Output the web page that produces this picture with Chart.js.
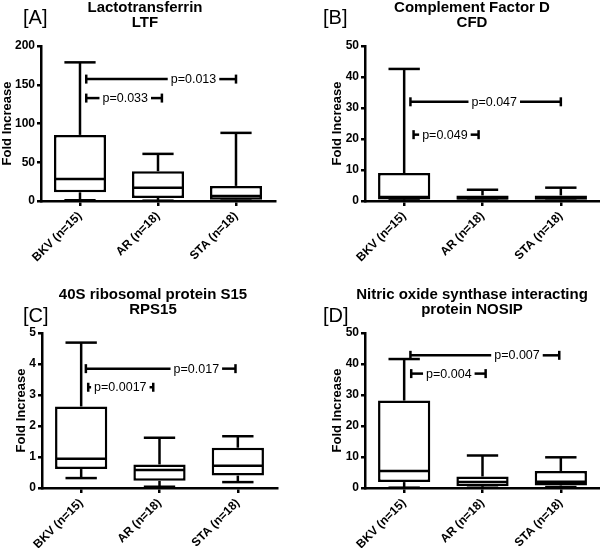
<!DOCTYPE html>
<html>
<head>
<meta charset="utf-8">
<script src="https://cdn.jsdelivr.net/npm/chart.js@4"></script>
<style>
body { margin: 0; background: #fff; }
#wrap { position: relative; width: 600px; height: 548px; }
#wrap canvas { position: absolute; }
</style>
</head>
<body>
<div id="wrap">
  <canvas id="chartA" width="300" height="274" style="left:0;top:0"></canvas>
  <canvas id="chartB" width="300" height="274" style="left:300px;top:0"></canvas>
  <canvas id="chartC" width="300" height="274" style="left:0;top:274px"></canvas>
  <canvas id="chartD" width="300" height="274" style="left:300px;top:274px"></canvas>
</div>
<script>
const groups = ['BKV (n=15)', 'AR (n=18)', 'STA (n=18)'];

// [A] Lactotransferrin
const ltfTitle = ['Lactotransferrin', 'LTF'];
const ltfMin = [1, 0.4, 0.5];
const ltfQ1 = [11.2, 3.9, 1.5];
const ltfMedian = [28.4, 17.2, 6.5];
const ltfQ3 = [85.3, 38.4, 19.5];
const ltfMax = [178.9, 60.8, 87.9];
const ltfTicks = [0, 50, 100, 150, 200];
const ltfP = ['p=0.033', 'p=0.013'];
const ltfPLevel = [132.8, 157.3];

// [B] Complement Factor D
const cfdTitle = ['Complement Factor D', 'CFD'];
const cfdMin = [0.2, 0.1, 0.1];
const cfdQ1 = [0.5, 0.4, 0.4];
const cfdMedian = [1.3, 1.0, 1.1];
const cfdQ3 = [9.0, 1.8, 1.8];
const cfdMax = [42.6, 3.6, 4.3];
const cfdTicks = [0, 10, 20, 30, 40, 50];
const cfdP = ['p=0.049', 'p=0.047'];
const cfdPLevel = [21.4, 32.0];

// [C] 40S ribosomal protein S15
const rpsTitle = ['40S ribosomal protein S15', 'RPS15'];
const rpsMin = [0.32, 0.04, 0.19];
const rpsQ1 = [0.61, 0.23, 0.40];
const rpsMedian = [0.94, 0.58, 0.72];
const rpsQ3 = [2.63, 0.76, 1.30];
const rpsMax = [4.69, 1.62, 1.67];
const rpsTicks = [0, 1, 2, 3, 4, 5];
const rpsP = ['p=0.0017', 'p=0.017'];
const rpsPLevel = [3.25, 3.85];

// [D] Nitric oxide synthase interacting protein
const nosTitle = ['Nitric oxide synthase interacting', 'protein NOSIP'];
const nosMin = [0.1, 0.1, 0.3];
const nosQ1 = [1.9, 0.6, 0.8];
const nosMedian = [5.5, 1.9, 2.0];
const nosQ3 = [28.2, 3.7, 5.5];
const nosMax = [41.6, 10.5, 9.9];
const nosTicks = [0, 10, 20, 30, 40, 50];
const nosP = ['p=0.004', 'p=0.007'];
const nosPLevel = [36.9, 42.8];

const FONT = "'Liberation Sans', Arial, sans-serif";
const LW = 2.5;

const panels = [
  { id: 'chartA', letter: '[A]', title: ltfTitle, min: ltfMin, q1: ltfQ1, med: ltfMedian, q3: ltfQ3, max: ltfMax,
    ticks: ltfTicks, pText: ltfP, pLevel: ltfPLevel,
    padL: 0, yW: 41, padR: 25, top: 46, bottom: 201, titleX: 145, titleY: [12, 26.5], letterY: 24,
    ends: [[0.08, 1.05], [0.08, 2]], textAt: [0.58, 1.455] },
  { id: 'chartB', letter: '[B]', title: cfdTitle, min: cfdMin, q1: cfdQ1, med: cfdMedian, q3: cfdQ3, max: cfdMax,
    ticks: cfdTicks, pText: cfdP, pLevel: cfdPLevel,
    padL: 30, yW: 35, padR: 0, top: 46, bottom: 201, titleX: 172, titleY: [12, 26.5], letterY: 24,
    ends: [[0.12, 0.95], [0.08, 2]], textAt: [0.52, 1.15] },
  { id: 'chartC', letter: '[C]', title: rpsTitle, min: rpsMin, q1: rpsQ1, med: rpsMedian, q3: rpsQ3, max: rpsMax,
    ticks: rpsTicks, pText: rpsP, pLevel: rpsPLevel,
    padL: 14, yW: 28, padR: 23, top: 59, bottom: 214, titleX: 153, titleY: [25, 40], letterY: 48,
    ends: [[0.09, 0.92], [0.06, 1.97]], textAt: [0.5, 1.47] },
  { id: 'chartD', letter: '[D]', title: nosTitle, min: nosMin, q1: nosQ1, med: nosMedian, q3: nosQ3, max: nosMax,
    ticks: nosTicks, pText: nosP, pLevel: nosPLevel,
    padL: 30, yW: 35, padR: 0, top: 59, bottom: 214, titleX: 172, titleY: [25, 40], letterY: 48,
    ends: [[0.09, 1.04], [0.08, 1.98]], textAt: [0.57, 1.44] }
];

function seg(ctx, x1, y1, x2, y2) {
  ctx.beginPath();
  ctx.moveTo(x1, y1);
  ctx.lineTo(x2, y2);
  ctx.stroke();
}

// whiskers, medians, p-value brackets, panel letter and title
function boxExtras(p) {
  return {
    id: 'boxExtras',
    afterDatasetsDraw(chart) {
      const { ctx, scales: { x, y } } = chart;
      const bars = chart.getDatasetMeta(0).data;
      ctx.save();
      ctx.strokeStyle = '#000';
      ctx.lineWidth = LW;
      bars.forEach((bar, i) => {
        const cx = x.getPixelForValue(i);
        const half = bar.width / 2;
        const cap = bar.width * 0.3;
        const yMax = y.getPixelForValue(p.max[i]);
        const yMin = y.getPixelForValue(p.min[i]);
        seg(ctx, cx, y.getPixelForValue(p.q3[i]), cx, yMax);
        seg(ctx, cx - cap, yMax, cx + cap, yMax);
        seg(ctx, cx, y.getPixelForValue(p.q1[i]), cx, yMin);
        seg(ctx, cx - cap, yMin, cx + cap, yMin);
        const yMed = y.getPixelForValue(p.med[i]);
        seg(ctx, cx - half + 1, yMed, cx + half - 1, yMed);
      });

      // significance brackets
      const x0 = x.getPixelForValue(0);
      const step = x.getPixelForValue(1) - x0;
      ctx.font = '12.5px ' + FONT;
      ctx.fillStyle = '#000';
      ctx.textAlign = 'center';
      ctx.textBaseline = 'middle';
      p.pText.forEach((txt, k) => {
        const yy = y.getPixelForValue(p.pLevel[k]);
        const xl = x0 + p.ends[k][0] * step;
        const xr = x0 + p.ends[k][1] * step;
        const tx = x0 + p.textAt[k] * step;
        const w = ctx.measureText(txt).width / 2 + 3;
        seg(ctx, xl, yy - 4.5, xl, yy + 4.5);
        seg(ctx, xr, yy - 4.5, xr, yy + 4.5);
        if (tx - w > xl) seg(ctx, xl, yy, tx - w, yy);
        if (tx + w < xr) seg(ctx, tx + w, yy, xr, yy);
        ctx.fillText(txt, tx, yy + 0.5);
      });

      ctx.textBaseline = 'alphabetic';
      ctx.textAlign = 'left';
      ctx.font = '20px ' + FONT;
      ctx.fillText(p.letter, 23, p.letterY);
      ctx.textAlign = 'center';
      ctx.font = 'bold 15px ' + FONT;
      p.title.forEach((line, k) => ctx.fillText(line, p.titleX, p.titleY[k]));
      ctx.restore();
    }
  };
}

panels.forEach(p => {
  new Chart(document.getElementById(p.id), {
    type: 'bar',
    data: {
      labels: groups,
      datasets: [{
        data: p.q1.map((v, i) => [v, p.q3[i]]),
        backgroundColor: '#fff',
        borderColor: '#000',
        borderWidth: LW,
        borderSkipped: false,
        barPercentage: 0.667,
        categoryPercentage: 1
      }]
    },
    options: {
      responsive: false,
      animation: false,
      events: [],
      layout: { padding: { left: p.padL, right: p.padR, top: p.top, bottom: 0 } },
      plugins: {
        legend: { display: false },
        title: { display: false },
        tooltip: { enabled: false }
      },
      scales: {
        x: {
          ticks: {
            font: { family: FONT, size: 12, weight: 'bold' },
            color: '#000',
            minRotation: 45,
            maxRotation: 45,
            autoSkip: false,
            padding: 3
          },
          grid: { display: true, drawOnChartArea: false, offset: false, tickLength: 5, color: '#000', lineWidth: LW },
          border: { display: true, color: '#000', width: LW },
          afterFit: s => { s.height = 274 - p.bottom; s.paddingLeft = 0; s.paddingRight = 0; }
        },
        y: {
          min: p.ticks[0],
          max: p.ticks[p.ticks.length - 1],
          ticks: {
            stepSize: p.ticks[1] - p.ticks[0],
            font: { family: FONT, size: 12, weight: 'bold' },
            color: '#000',
            padding: 2
          },
          grid: { display: true, drawOnChartArea: false, tickLength: 4, color: '#000', lineWidth: LW },
          border: { display: true, color: '#000', width: LW },
          title: {
            display: true,
            text: 'Fold Increase',
            font: { family: FONT, size: 13, weight: 'bold' },
            color: '#000',
            padding: 0
          },
          afterFit: s => { s.width = p.yW; s.paddingTop = 0; s.paddingBottom = 0; }
        }
      }
    },
    plugins: [boxExtras(p)]
  });
});
</script>
</body>
</html>
